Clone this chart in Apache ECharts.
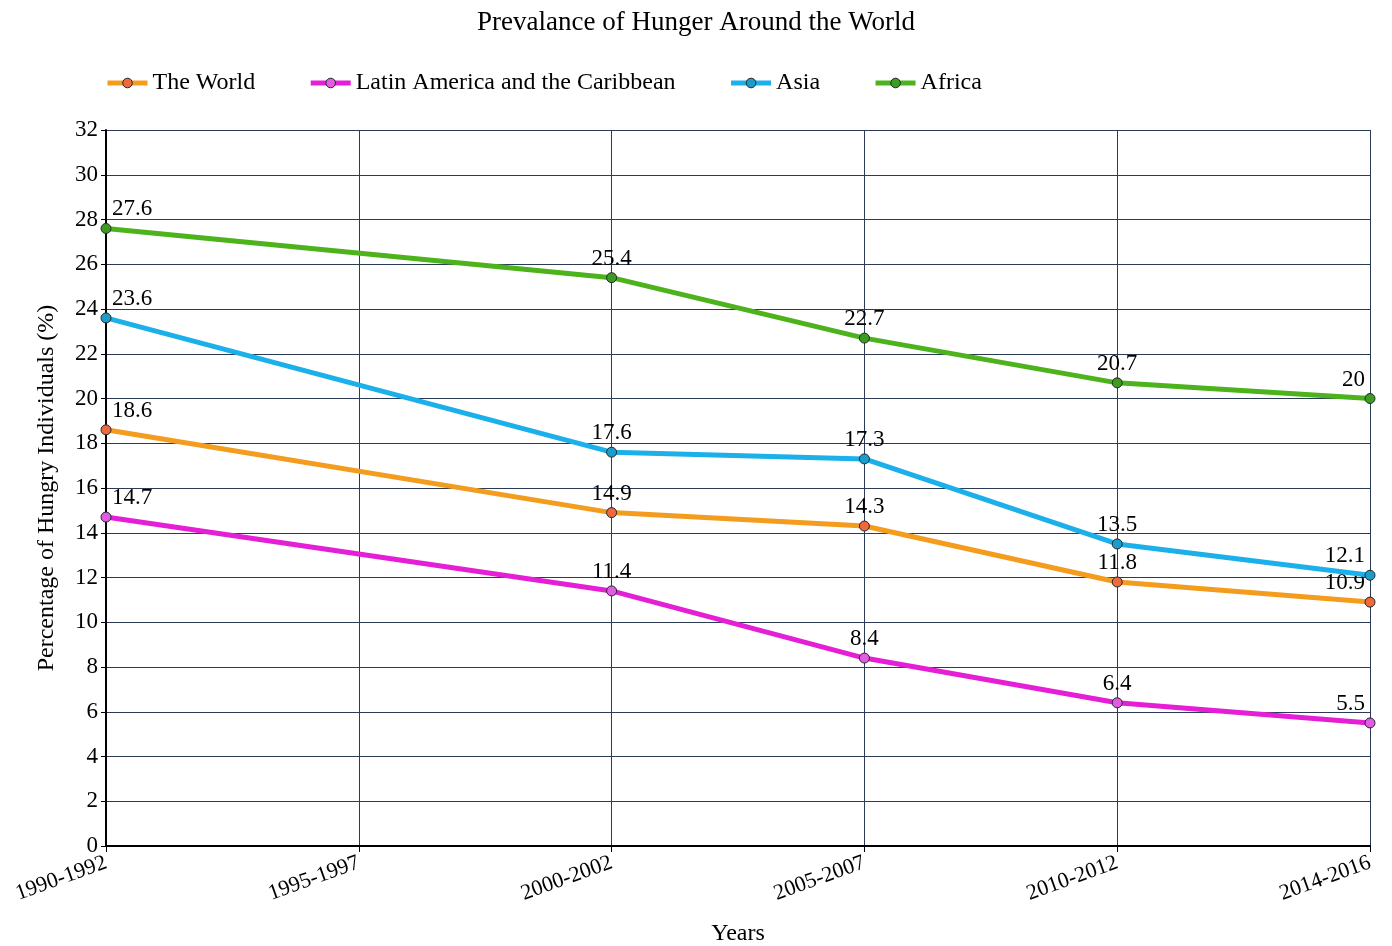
<!DOCTYPE html>
<html>
<head>
<meta charset="utf-8">
<title>Prevalance of Hunger Around the World</title>
<script src="https://cdn.jsdelivr.net/npm/echarts@6/dist/echarts.min.js"></script>
<style>
  html, body { margin: 0; padding: 0; background: #fff; }
  #chart { width: 1392px; height: 946px; }
</style>
</head>
<body>
<div id="chart"></div>
<script>
// Periods on the x axis; 1995-1997 has no survey values, lines pass straight over it.
const periods = ['1990-1992', '1995-1997', '2000-2002', '2005-2007', '2010-2012', '2014-2016'];

// Share of hungry individuals (%) per region
const world = [18.6, null, 14.9, 14.3, 11.8, 10.9];
const latinAmerica = [14.7, null, 11.4, 8.4, 6.4, 5.5];
const asia = [23.6, null, 17.6, 17.3, 13.5, 12.1];
const africa = [27.6, null, 25.4, 22.7, 20.7, 20];

const seriesNames = ['The World', 'Latin America and the Caribbean', 'Asia', 'Africa'];
const seriesValues = [world, latinAmerica, asia, africa];
const lineColors = ['#f39c1e', '#e41fd6', '#1cb0ea', '#4db31d'];
const markerColors = ['#f0693c', '#e35ae3', '#1d9ccb', '#3d9a22'];

const FONT = '"Liberation Serif", "Times New Roman", serif';

function pointData(values) {
  const last = values.length - 1;
  return values.map((v, i) => {
    if (v === null) return null;
    if (i === 0) return { value: v, label: { align: 'left', offset: [6, 0] } };
    if (i === last) return { value: v, label: { align: 'right', offset: [-5, 0] } };
    return v;
  });
}

const series = seriesNames.map((name, k) => ({
  name: name,
  type: 'line',
  data: pointData(seriesValues[k]),
  connectNulls: true,
  symbol: 'circle',
  symbolSize: 10,
  lineStyle: { color: lineColors[k], width: 5 },
  itemStyle: { color: markerColors[k], borderColor: '#1f2a2a', borderWidth: 1 },
  label: {
    show: true,
    position: 'top',
    distance: 2,
    color: '#000',
    fontFamily: FONT,
    fontSize: 23
  },
  emphasis: { disabled: true },
  z: 3 + k
}));

const chart = echarts.init(document.getElementById('chart'), null, { renderer: 'canvas' });
chart.setOption({
  animation: false,
  backgroundColor: '#fff',
  color: lineColors,
  title: {
    text: 'Prevalance of Hunger Around the World',
    left: 'center',
    top: 4,
    textStyle: { fontFamily: FONT, fontSize: 27, fontWeight: 'normal', color: '#000' }
  },
  legend: {
    top: 66,
    left: 100,
    itemWidth: 40,
    itemHeight: 12,
    itemGap: 53,
    textStyle: { fontFamily: FONT, fontSize: 24, color: '#000' },
    data: seriesNames.map((n, k) => ({
      name: n,
      itemStyle: { color: markerColors[k], borderColor: '#1f2a2a', borderWidth: 1 },
      lineStyle: { color: lineColors[k], width: 5 }
    }))
  },
  grid: { left: 106, right: 22, top: 130, bottom: 100, containLabel: false, outerBoundsMode: 'none' },
  xAxis: {
    type: 'category',
    data: periods,
    boundaryGap: false,
    name: 'Years',
    nameLocation: 'middle',
    nameGap: 76,
    nameTextStyle: { fontFamily: FONT, fontSize: 24, color: '#000' },
    axisLine: { lineStyle: { color: '#000', width: 2 } },
    axisTick: { show: true, length: 6, lineStyle: { color: '#000' } },
    axisLabel: { rotate: 20, margin: 16, fontFamily: FONT, fontSize: 22, color: '#000' },
    splitLine: { show: true, lineStyle: { color: '#2b3a55', width: 1 } }
  },
  yAxis: {
    type: 'value',
    min: 0,
    max: 32,
    interval: 2,
    name: 'Percentage of Hungry Individuals (%)',
    nameLocation: 'middle',
    nameGap: 47,
    nameRotate: 90,
    nameTextStyle: { fontFamily: FONT, fontSize: 24, color: '#000' },
    axisLine: { show: true, lineStyle: { color: '#000', width: 2 } },
    axisTick: { show: true, length: 5, lineStyle: { color: '#000' } },
    axisLabel: { margin: 8, fontFamily: FONT, fontSize: 23, color: '#000' },
    splitLine: { show: true, lineStyle: { color: '#2b3a55', width: 1 } }
  },
  series: series
});
</script>
</body>
</html>
